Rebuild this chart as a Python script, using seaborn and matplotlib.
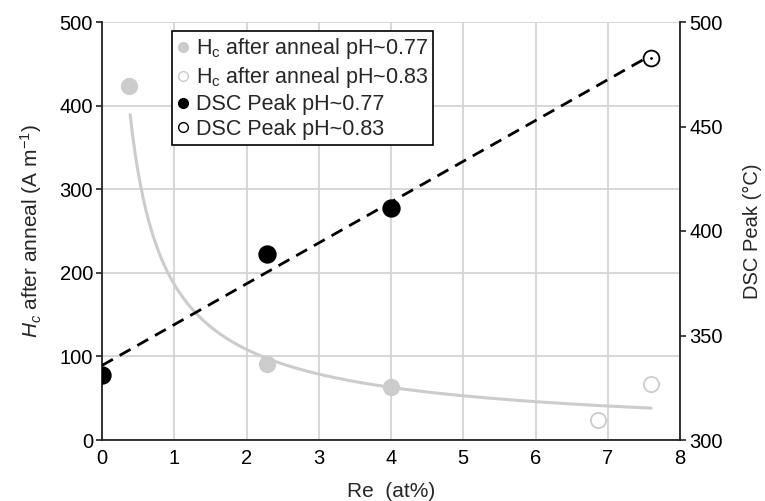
import numpy as np
import pandas as pd
import matplotlib
matplotlib.use("Agg")
import matplotlib.pyplot as plt
from matplotlib.lines import Line2D
import seaborn as sns

# Data
hc77_x = [0.37, 2.29, 4.0]
hc77_y = [424, 91, 63]
hc83_x = [6.87, 7.6]
hc83_y = [24, 67]
dsc77_x = [0.0, 2.29, 4.0]
dsc77_y = [331, 389, 411]
dsc83_x = [7.6]
dsc83_y = [483]

labels = ["H$_\\mathregular{c}$ after anneal pH~0.77",
          "H$_\\mathregular{c}$ after anneal pH~0.83",
          "DSC Peak pH~0.77",
          "DSC Peak pH~0.83"]

sns.set_theme(style="white")
plt.rcParams['font.family'] = ['Liberation Sans', 'DejaVu Sans']
plt.rcParams['mathtext.fontset'] = 'custom'
plt.rcParams['mathtext.rm'] = 'Liberation Sans'
plt.rcParams['mathtext.it'] = 'Liberation Sans:italic'

GRAY = '#cccccc'
TFS = 14.5
LFS = 15

fig = plt.figure(figsize=(7.65, 5.01), dpi=100)
ax = fig.add_axes([102/765, 1-440/501, 578/765, 418/501])
ax2 = ax.twinx()

# Power-law trend line for Hc
hx = np.array(hc77_x + hc83_x)
hy = np.array(hc77_y + hc83_y)
b, lna = np.polyfit(np.log(hx), np.log(hy), 1)
fx = np.linspace(0.39, 7.6, 200)
fy = np.exp(lna) * fx ** b
sns.lineplot(x=fx, y=fy, ax=ax, color=GRAY, lw=2.2, zorder=2)

sns.scatterplot(x=hc77_x, y=hc77_y, ax=ax, s=130, color=GRAY, edgecolor=GRAY, linewidth=1, zorder=3)
sns.scatterplot(x=hc83_x, y=hc83_y, ax=ax, s=120, facecolor='white', edgecolor=GRAY, linewidth=1.3, zorder=3)

# Linear trend line for DSC
dx = np.array(dsc77_x + dsc83_x)
dy = np.array(dsc77_y + dsc83_y)
m, c0 = np.polyfit(dx, dy, 1)
lx = np.array([0.0, 7.55])
sns.lineplot(x=lx, y=m*lx + c0, ax=ax2, color='black', lw=2, linestyle=(0, (4.5, 2.8)), zorder=2)
sns.scatterplot(x=dsc77_x, y=dsc77_y, ax=ax2, s=150, color='black', edgecolor='black', zorder=3)
sns.scatterplot(x=dsc83_x, y=dsc83_y, ax=ax2, s=130, facecolor='white', edgecolor='black', linewidth=1.3, zorder=3)
sns.scatterplot(x=dsc83_x, y=dsc83_y, ax=ax2, s=4, color='black', edgecolor='black', linewidth=0, zorder=4)

ax.set_xlim(0, 8)
ax.set_ylim(0, 500)
ax2.set_ylim(300, 500)
ax.set_xticks(range(0, 9))
ax.set_yticks(range(0, 501, 100))
ax2.set_yticks(range(300, 501, 50))

ax.grid(True, color='#d4d4d4', lw=1.3)
ax.set_axisbelow(True)
for a in (ax, ax2):
    a.spines['top'].set_visible(False)
    for s in ['left', 'right', 'bottom']:
        a.spines[s].set_color('#222222')
        a.spines[s].set_linewidth(1.3)
ax2.spines['left'].set_visible(False)
ax2.spines['bottom'].set_visible(False)
ax.spines['right'].set_visible(False)

ax.tick_params(axis='both', direction='out', length=4.5, width=1.2, colors='#222222',
               labelsize=TFS, labelcolor='black', pad=2)
ax2.tick_params(axis='y', direction='out', length=4.5, width=1.2, colors='#222222',
                labelsize=TFS, labelcolor='black', pad=2)

ax.set_xlabel("Re  (at%)", fontsize=LFS, labelpad=10)
ax.set_ylabel("$H_c$ after anneal (A m$^{-1}$)", fontsize=LFS, labelpad=11)
ax2.set_ylabel("DSC Peak (°C)", fontsize=TFS, labelpad=15)

handles = [
    Line2D([], [], marker='o', ls='', ms=7, color=GRAY, mec=GRAY),
    Line2D([], [], marker='o', ls='', ms=7, mfc='white', mec=GRAY),
    Line2D([], [], marker='o', ls='', ms=7, color='black'),
    Line2D([], [], marker='o', ls='', ms=7, mfc='white', mec='black'),
]
leg = ax2.legend(handles, labels, loc='upper left', bbox_to_anchor=(70/578, 1-9/418),
                 fontsize=15.5, frameon=True, fancybox=False, framealpha=1,
                 edgecolor='black', handlelength=0.5, handletextpad=0.35,
                 borderpad=0.25, labelspacing=0.18, borderaxespad=0)
leg.get_frame().set_linewidth(1.2)

fig.savefig("out.png", dpi=100)
